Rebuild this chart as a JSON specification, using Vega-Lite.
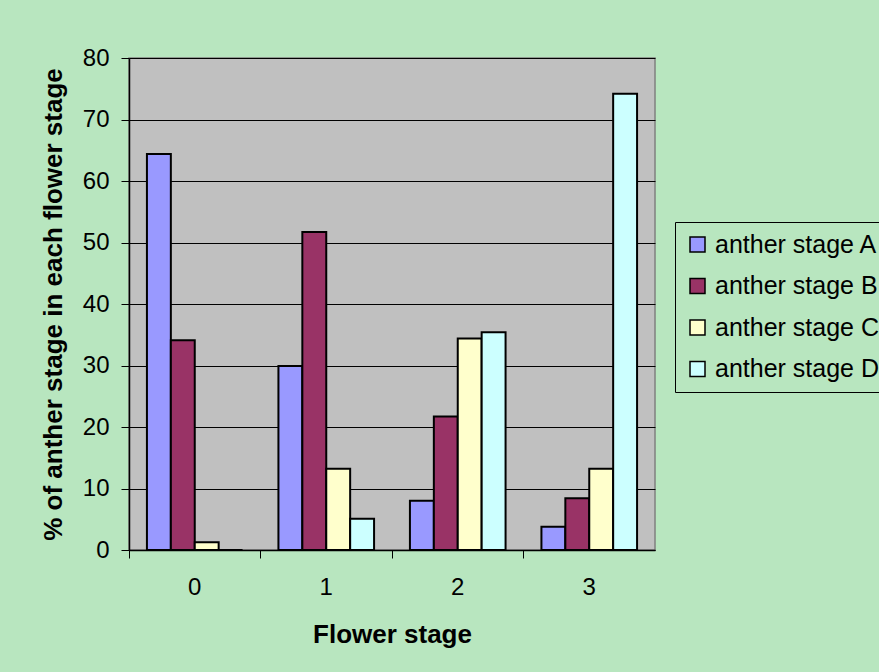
{
  "$schema": "https://vega.github.io/schema/vega-lite/v6.json",
  "width": 526,
  "height": 492,
  "autosize": {"type": "none"},
  "padding": {"left": 129, "top": 58, "right": 224, "bottom": 122},
  "background": "#B8E6BF",
  "data": {
    "values": [
      {"flower": "0", "anther": "anther stage A", "pct": 64.4},
      {"flower": "0", "anther": "anther stage B", "pct": 34.1},
      {"flower": "0", "anther": "anther stage C", "pct": 1.25},
      {"flower": "0", "anther": "anther stage D", "pct": 0},
      {"flower": "1", "anther": "anther stage A", "pct": 29.9},
      {"flower": "1", "anther": "anther stage B", "pct": 51.7},
      {"flower": "1", "anther": "anther stage C", "pct": 13.2},
      {"flower": "1", "anther": "anther stage D", "pct": 5.1},
      {"flower": "2", "anther": "anther stage A", "pct": 8.0},
      {"flower": "2", "anther": "anther stage B", "pct": 21.7},
      {"flower": "2", "anther": "anther stage C", "pct": 34.4},
      {"flower": "2", "anther": "anther stage D", "pct": 35.4},
      {"flower": "3", "anther": "anther stage A", "pct": 3.8},
      {"flower": "3", "anther": "anther stage B", "pct": 8.4},
      {"flower": "3", "anther": "anther stage C", "pct": 13.2},
      {"flower": "3", "anther": "anther stage D", "pct": 74.2}
    ]
  },
  "mark": {"type": "bar", "stroke": "#000000", "strokeWidth": 2},
  "encoding": {
    "x": {
      "field": "flower",
      "type": "nominal",
      "scale": {"paddingInner": 0, "paddingOuter": 0},
      "axis": {
        "title": "Flower stage",
        "labelAngle": 0,
        "bandPosition": 0,
        "labelFont": "Liberation Sans",
        "labelFontSize": 24,
        "labelColor": "#000000",
        "labelPadding": 17,
        "titleFont": "Liberation Sans",
        "titleFontSize": 26,
        "titleFontWeight": "bold",
        "titleColor": "#000000",
        "titlePadding": 22,
        "domainColor": "#000000",
        "domainWidth": 1.5,
        "tickColor": "#000000",
        "tickSize": 8,
        "grid": false
      }
    },
    "xOffset": {
      "field": "anther",
      "type": "nominal",
      "scale": {"paddingInner": 0, "paddingOuter": 0.75}
    },
    "y": {
      "field": "pct",
      "type": "quantitative",
      "scale": {"domain": [0, 80], "nice": false},
      "axis": {
        "title": "% of anther stage in each flower stage",
        "values": [0, 10, 20, 30, 40, 50, 60, 70, 80],
        "labelFont": "Liberation Sans",
        "labelFontSize": 24,
        "labelColor": "#000000",
        "labelPadding": 12,
        "titleFont": "Liberation Sans",
        "titleFontSize": 26,
        "titleFontWeight": "bold",
        "titleColor": "#000000",
        "titlePadding": 16,
        "domainColor": "#000000",
        "domainWidth": 1.5,
        "tickColor": "#000000",
        "tickSize": 8,
        "grid": true,
        "gridColor": "#000000",
        "gridWidth": 1
      }
    },
    "color": {
      "field": "anther",
      "type": "nominal",
      "scale": {
        "domain": ["anther stage A", "anther stage B", "anther stage C", "anther stage D"],
        "range": ["#9999FF", "#993366", "#FFFFCC", "#CCFFFF"]
      },
      "legend": {
        "title": null,
        "orient": "none",
        "legendX": 546,
        "legendY": 164,
        "strokeColor": "#000000",
        "fillColor": "#B8E6BF",
        "padding": 10,
        "symbolType": "square",
        "symbolSize": 225,
        "symbolStrokeColor": "#000000",
        "symbolStrokeWidth": 1.5,
        "symbolOpacity": 1,
        "labelFont": "Liberation Sans",
        "labelFontSize": 25,
        "labelColor": "#000000",
        "labelOffset": 5,
        "labelLimit": 400,
        "rowPadding": 15.5
      }
    }
  },
  "config": {
    "view": {"fill": "#C0C0C0", "stroke": "#808080", "strokeWidth": 1.5}
  }
}
